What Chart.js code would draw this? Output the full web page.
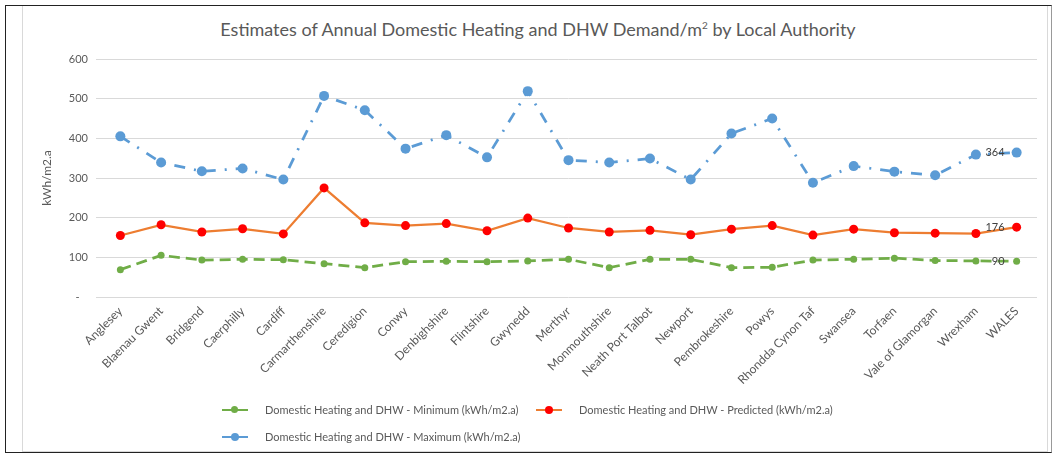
<!DOCTYPE html>
<html>
<head>
<meta charset="utf-8">
<script src="https://cdn.jsdelivr.net/npm/chart.js@4/dist/chart.umd.min.js"></script>
<style>
  body { margin: 0; background: #fff; font-family: Lato, "Open Sans", sans-serif; }
  #wrap { position: relative; width: 1055px; height: 456px; overflow: hidden; }
  #outer { position: absolute; left: 5px; top: 5px; width: 1047px; height: 448px;
           border: 1.5px solid #222; border-right-color: #999; box-sizing: border-box; }
  #inner { position: absolute; left: 22px; top: 6px; width: 1026px; height: 446px;
           border: 1px solid #d9d9d9; border-top: none; box-sizing: border-box; }
  #title { position: absolute; left: 0; width: 1076px; top: 18px; text-align: center;
           font-size: 18px; color: #595959; }
  #title sup { font-size: 10px; }
  .leg { position: absolute; display: flex; align-items: center; font-size: 11px; color: #595959; white-space: nowrap; }
  .sw { position: relative; width: 26px; height: 10px; margin-right: 17px; }
  .sw .ln { position: absolute; left: 0; right: 0; top: 4px; height: 2.5px; }
  .sw .dt { position: absolute; left: 9px; top: 1px; width: 8px; height: 8px; border-radius: 50%; }
  canvas { position: absolute; left: 0; top: 0; }
</style>
</head>
<body>
<div id="wrap">
  <div id="inner"></div>
  <div id="outer"></div>
  <div id="title">Estimates of Annual Domestic Heating and DHW Demand/m<sup>2</sup> by Local Authority</div>
  <canvas id="chart" width="1055" height="456"></canvas>
  <div class="leg" style="left:222px; top:403px;">
    <div class="sw"><div class="ln" style="background:#70AD47"></div><div class="dt" style="background:#70AD47; width:7px; height:7px; top:1.5px"></div></div>
    Domestic Heating and DHW - Minimum (kWh/m2.a)
  </div>
  <div class="leg" style="left:536px; top:403px;">
    <div class="sw"><div class="ln" style="background:#ED7D31"></div><div class="dt" style="background:#FF0000"></div></div>
    Domestic Heating and DHW - Predicted (kWh/m2.a)
  </div>
  <div class="leg" style="left:222px; top:430px;">
    <div class="sw"><div class="ln" style="background:#5B9BD5"></div><div class="dt" style="background:#5B9BD5"></div></div>
    Domestic Heating and DHW - Maximum (kWh/m2.a)
  </div>
</div>

<script>
// local authorities, WALES total last
const authorities = ['Anglesey', 'Blaenau Gwent', 'Bridgend', 'Caerphilly', 'Cardiff', 'Carmarthenshire',
  'Ceredigion', 'Conwy', 'Denbighshire', 'Flintshire', 'Gwynedd', 'Merthyr', 'Monmouthshire',
  'Neath Port Talbot', 'Newport', 'Pembrokeshire', 'Powys', 'Rhondda Cynon Taf', 'Swansea',
  'Torfaen', 'Vale of Glamorgan', 'Wrexham', 'WALES'];

const minimum = [69, 105, 93, 95, 94, 84, 74, 89, 90, 89, 91, 95, 74, 95, 95, 74, 75, 93, 95, 98, 92, 91, 90];
const predicted = [155, 182, 164, 172, 159, 275, 187, 180, 185, 167, 199, 174, 164, 168, 157, 171, 180, 156, 171, 162, 161, 160, 176];
const maximum = [405, 339, 317, 324, 296, 507, 471, 374, 408, 352, 519, 345, 339, 349, 296, 412, 450, 288, 330, 316, 307, 359, 364];

const yTicks = [0, 100, 200, 300, 400, 500, 600];

// value labels on the WALES point, placed to the left of the marker
const walesLabels = {
  id: 'walesLabels',
  afterDatasetsDraw(chart) {
    const ctx = chart.ctx;
    ctx.save();
    ctx.font = '11px Lato, sans-serif';
    ctx.fillStyle = '#404040';
    ctx.textAlign = 'right';
    ctx.textBaseline = 'middle';
    chart.data.datasets.forEach((ds, i) => {
      const pts = chart.getDatasetMeta(i).data;
      const last = pts[pts.length - 1];
      ctx.fillText(String(ds.data[ds.data.length - 1]), last.x - 12, last.y);
    });
    ctx.restore();
  }
};

new Chart(document.getElementById('chart'), {
  type: 'line',
  data: {
    labels: authorities,
    datasets: [
      {
        label: 'Domestic Heating and DHW - Minimum (kWh/m2.a)',
        data: minimum,
        borderColor: '#70AD47', backgroundColor: '#70AD47',
        borderWidth: 2.75, borderDash: [11, 6],
        pointRadius: 3.5, pointBorderWidth: 0, pointBackgroundColor: '#70AD47'
      },
      {
        label: 'Domestic Heating and DHW - Predicted (kWh/m2.a)',
        data: predicted,
        borderColor: '#ED7D31', backgroundColor: '#FF0000',
        borderWidth: 2.25,
        pointRadius: 4.5, pointBorderWidth: 0, pointBackgroundColor: '#FF0000'
      },
      {
        label: 'Domestic Heating and DHW - Maximum (kWh/m2.a)',
        data: maximum,
        borderColor: '#5B9BD5', backgroundColor: '#5B9BD5',
        borderWidth: 2.75, borderDash: [11, 9, 2, 9],
        pointRadius: 5, pointBorderWidth: 0, pointBackgroundColor: '#5B9BD5'
      }
    ]
  },
  options: {
    responsive: false,
    animation: false,
    layout: { padding: { left: 30, right: 18, top: 59, bottom: 0 } },
    plugins: {
      legend: { display: false },
      title: { display: false },
      tooltip: { enabled: false }
    },
    scales: {
      x: {
        offset: true,
        afterFit: (s) => { s.height = 159; },
        grid: { display: false, drawTicks: false, offset: true },
        border: { display: false },
        ticks: {
          autoSkip: false, minRotation: 45, maxRotation: 45, padding: 7,
          color: '#595959', font: { family: 'Lato', size: 12 }
        }
      },
      y: {
        min: 0, max: 600,
        afterFit: (s) => { s.width = 70; },
        afterBuildTicks: (s) => { s.ticks = yTicks.map(v => ({ value: v })); },
        grid: { color: '#d9d9d9', lineWidth: 1, drawTicks: true, tickLength: 4, tickColor: '#d9d9d9' },
        border: { display: false },
        title: {
          display: true, text: 'kWh/m2.a', color: '#595959',
          font: { family: 'Lato', size: 12 }, padding: { top: 10, bottom: 0 }
        },
        ticks: {
          padding: 8, color: '#595959', font: { family: 'Lato', size: 11 },
          callback: (v) => v === 0 ? '-   ' : v
        }
      }
    }
  },
  plugins: [walesLabels]
});
</script>
</body>
</html>
